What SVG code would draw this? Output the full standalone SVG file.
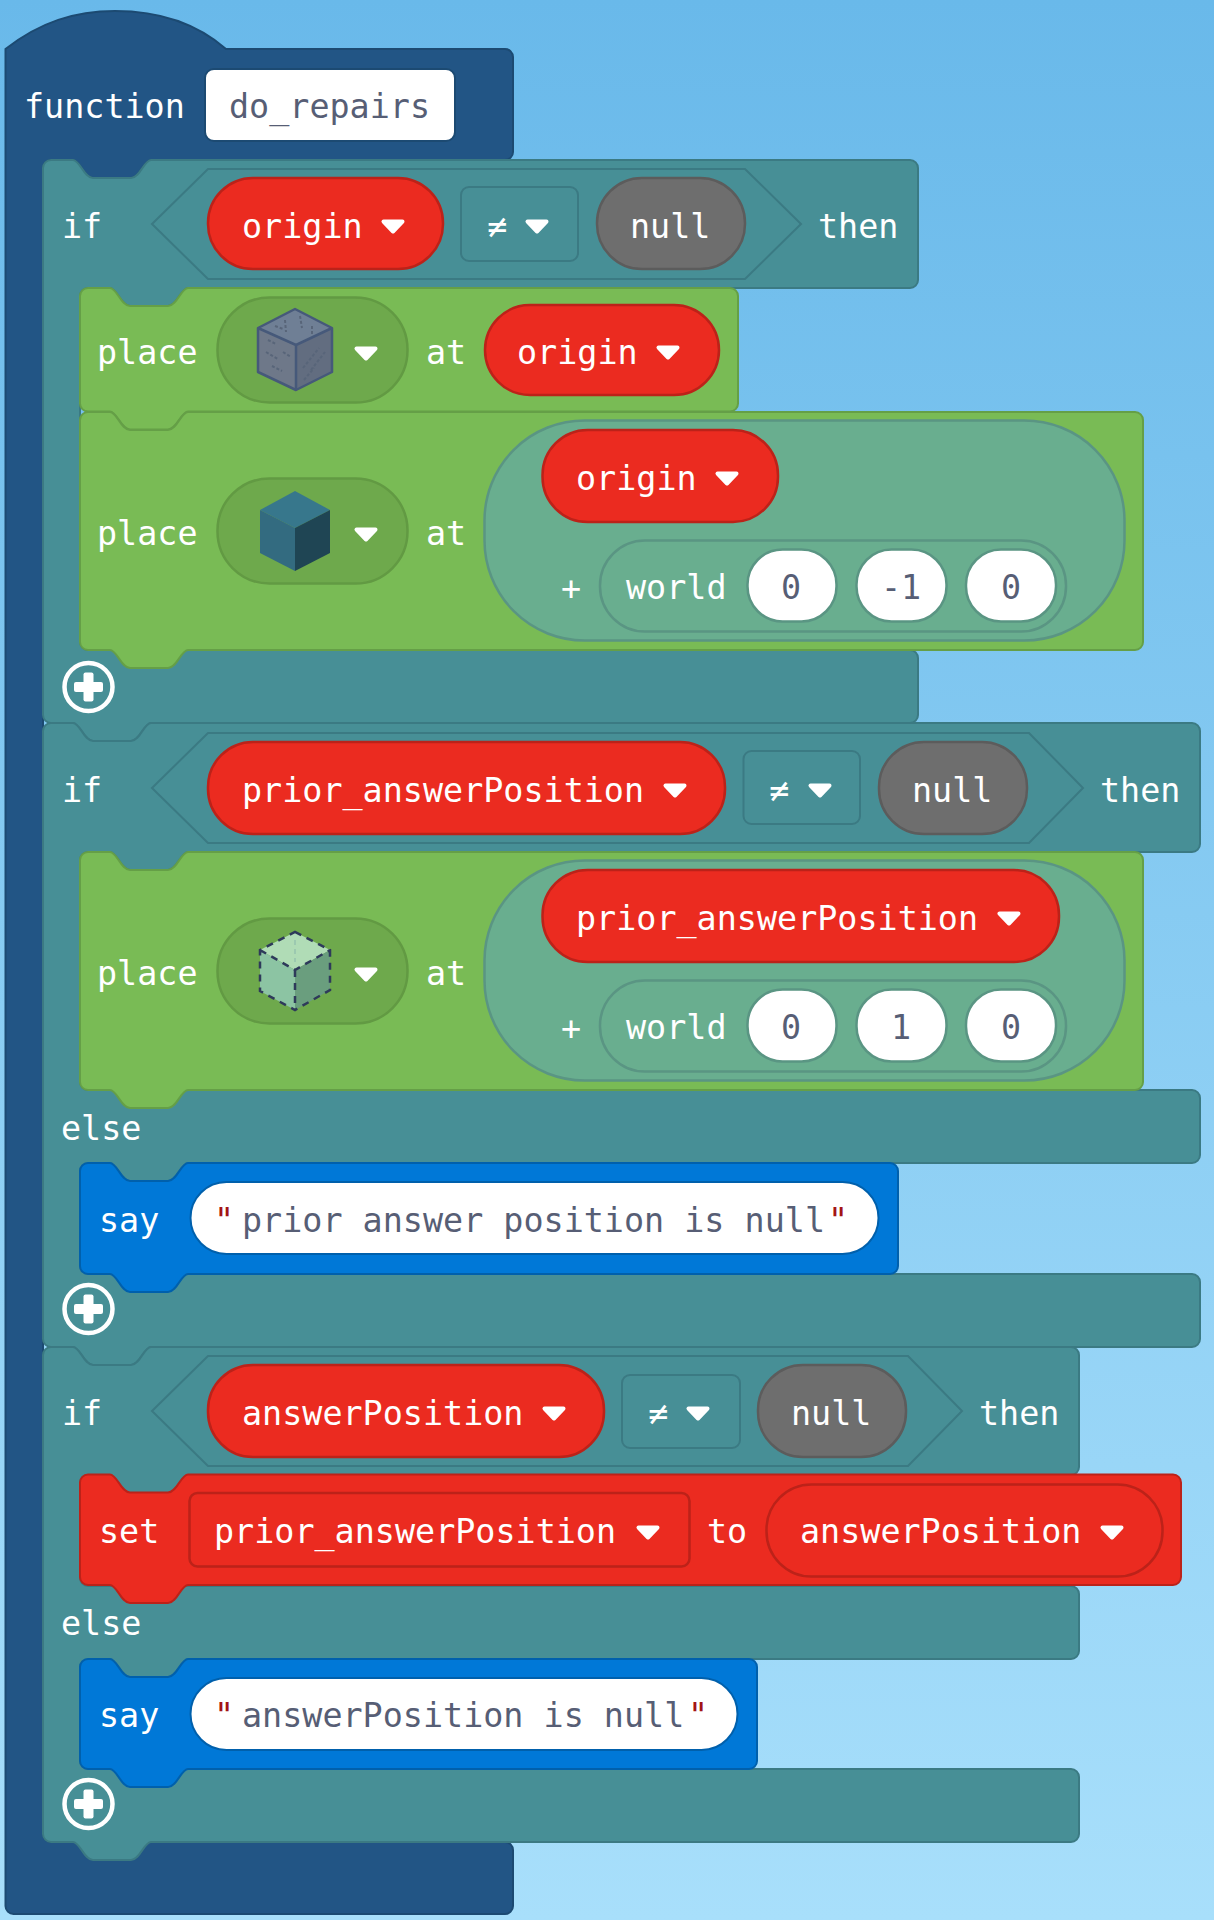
<svg xmlns="http://www.w3.org/2000/svg" width="1214" height="1920" viewBox="0 0 1214 1920">
<style>
text{font-family:"DejaVu Sans Mono","Liberation Mono",monospace;font-size:33.4px;fill:#fff}
text.d{fill:#575e75}
text.q{fill:#a31515;text-anchor:middle}
text.m{text-anchor:middle}
text.dm{fill:#575e75;text-anchor:middle}
.fn{fill:#225585;stroke:#1c4a72;stroke-width:2}
.lg{fill:#478f96;stroke:#3b7a83;stroke-width:2}
.df{fill:#478f96;stroke:#3b7a83;stroke-width:2}
.gr{fill:#79bb55;stroke:#659f47;stroke-width:2}
.gp{fill:#6ea94c;stroke:#629a43;stroke-width:2.5}
.mt{fill:#69ae8f;stroke:#5a9583;stroke-width:2.5}
.rd{fill:#eb2b20;stroke:#bc2219;stroke-width:2.5}
.gy{fill:#6e6e6e;stroke:#5c5c5c;stroke-width:2.5}
.bl{fill:#0078d7;stroke:#0060ac;stroke-width:2}
.wh{fill:#fff;stroke:#0060ac;stroke-width:2}
.wg{fill:#fff;stroke:#5a9583;stroke-width:2.5}
.ar{fill:#fff;stroke:#fff;stroke-width:4;stroke-linejoin:round}
.pl{fill:none;stroke:#fff;stroke-width:4.5}
.px{fill:#fff}
</style>
<defs>
<linearGradient id="bg" x1="0" y1="0" x2="0" y2="1"><stop offset="0" stop-color="#69b9ea"/><stop offset="1" stop-color="#a8dffb"/></linearGradient>
<path id="arrow" class="ar" d="M2.5,2.5H21.5L12,12.5Z"/>
<g id="plus"><circle class="pl" r="24"/><rect class="px" x="-14.5" y="-5" width="29" height="10" rx="2"/><rect class="px" x="-5" y="-14.5" width="10" height="29" rx="2"/></g>
</defs>
<rect width="1214" height="1920" fill="url(#bg)"/>
<g id="connectors"/>

<g id="function-do-repairs">
<path class="fn" d="M5.500,49C40,22 75,11 115,11C155,11 195,22 226,49H505a8,8 0 0 1 8,8V152a8,8 0 0 1 -8,8H151c-7,0 -11,18 -20,18h-38c-9,0 -13,-18 -20,-18H51a8,8 0 0 0 -8,8V1834a8,8 0 0 0 8,8H505a8,8 0 0 1 8,8V1906a8,8 0 0 1 -8,8H13.500a8,8 0 0 1 -8,-8Z"/>
<text x="24" y="118">function</text>
<rect x="205" y="69" width="250" height="72" rx="9" fill="#fff" stroke="#1c4a72" stroke-width="2"/>
<text class="d" x="229" y="118">do_repairs</text>
</g>

<g id="if-origin">
<path class="lg" d="M43,168a8,8 0 0 1 8,-8H73c7,0 11,18 20,18h38c9,0 13,-18 20,-18H910a8,8 0 0 1 8,8V280a8,8 0 0 1 -8,8H188c-7,0 -11,18 -20,18h-38c-9,0 -13,-18 -20,-18H88a8,8 0 0 0 -8,8V642a8,8 0 0 0 8,8H910a8,8 0 0 1 8,8V715a8,8 0 0 1 -8,8H151c-7,0 -11,18 -20,18h-38c-9,0 -13,-18 -20,-18H51a8,8 0 0 1 -8,-8Z"/>
<text x="62" y="238">if</text>
<path class="df" d="M152,224L208,169H745L801,224L745,279H208Z"/>
<rect class="rd" x="208" y="178" width="235" height="91" rx="45"/>
<text x="242" y="238">origin</text><use href="#arrow" x="381" y="219"/>
<rect class="df" x="461" y="187" width="117" height="74" rx="8"/>
<text class="m" x="497" y="238">≠</text><use href="#arrow" x="525" y="219"/>
<rect class="gy" x="597" y="178" width="148" height="91" rx="45"/>
<text x="630" y="238">null</text>
<text x="818" y="238">then</text>
<use href="#plus" x="88.500" y="687"/>
</g>

<g id="place-1">
<path class="gr" d="M80,296a8,8 0 0 1 8,-8H110c7,0 11,18 20,18h38c9,0 13,-18 20,-18H730a8,8 0 0 1 8,8V403.500a8,8 0 0 1 -8,8H188c-7,0 -11,18 -20,18h-38c-9,0 -13,-18 -20,-18H88a8,8 0 0 1 -8,-8Z"/>
<text x="97" y="364">place</text>
<rect class="gp" x="217.500" y="297.500" width="190" height="105" rx="52"/>
<g id="cube-stone">
<path d="M295,309L332,328L296,345L258,328Z" fill="#6f7f95"/>
<path d="M258,328L296,345V390L258,372Z" fill="#6e7889"/>
<path d="M332,328L296,345V390L332,372Z" fill="#626d80"/>
<path d="M295,309L332,328V372L296,390L258,372V328ZM258,328L296,345L332,328M296,345V390" fill="none" stroke="#46597a" stroke-width="2.500" stroke-linejoin="round"/>
<path d="M268,340l8,4M266,352l12,7M272,366l10,5M283,352l8,5M303,368l16,-20M311,370l14,-18M304,380l10,-12M285,320l1,12M300,316l2,12M312,326l0,8M275,326l8,3" fill="none" stroke="#586579" stroke-width="2" stroke-dasharray="3 2"/>
</g>
<use href="#arrow" x="354" y="346"/>
<text x="426" y="364">at</text>
<rect class="rd" x="485" y="305" width="234" height="90" rx="45"/>
<text x="517" y="364">origin</text><use href="#arrow" x="656" y="345"/>
</g>

<g id="place-2">
<path class="gr" d="M80,420a8,8 0 0 1 8,-8H110c7,0 11,18 20,18h38c9,0 13,-18 20,-18H1135a8,8 0 0 1 8,8V642a8,8 0 0 1 -8,8H188c-7,0 -11,18 -20,18h-38c-9,0 -13,-18 -20,-18H88a8,8 0 0 1 -8,-8Z"/>
<text x="97" y="545">place</text>
<rect class="gp" x="217.500" y="478.500" width="190" height="105" rx="52"/>
<g id="cube-prismarine">
<path d="M295,491L330,510L295,528L260,510Z" fill="#37778c"/>
<path d="M260,510L295,528V571L260,553Z" fill="#336b80"/>
<path d="M330,510L295,528V571L330,553Z" fill="#1f4554"/>
</g>
<use href="#arrow" x="354" y="527"/>
<text x="426" y="545">at</text>
<rect class="mt" x="484.500" y="420.500" width="640" height="220" rx="100"/>
<rect class="rd" x="542.500" y="430" width="235.500" height="92" rx="45"/>
<text x="576" y="490">origin</text><use href="#arrow" x="715" y="471"/>
<text class="m" x="571" y="600">+</text>
<rect class="mt" x="600" y="540.500" width="466" height="91" rx="45"/>
<text x="626" y="599">world</text>
<rect class="wg" x="747.500" y="549.500" width="89" height="72" rx="35"/>
<text class="dm" x="791" y="599">0</text>
<rect class="wg" x="856.500" y="549.500" width="90" height="72" rx="35"/>
<text class="dm" x="901" y="599">-1</text>
<rect class="wg" x="966" y="549.500" width="90" height="72" rx="35"/>
<text class="dm" x="1011" y="599">0</text>
</g>

<g id="if-prior-answer">
<path class="lg" d="M43,731a8,8 0 0 1 8,-8H73c7,0 11,18 20,18h38c9,0 13,-18 20,-18H1192a8,8 0 0 1 8,8V844a8,8 0 0 1 -8,8H188c-7,0 -11,18 -20,18h-38c-9,0 -13,-18 -20,-18H88a8,8 0 0 0 -8,8V1082a8,8 0 0 0 8,8H1192a8,8 0 0 1 8,8V1155a8,8 0 0 1 -8,8H188c-7,0 -11,18 -20,18h-38c-9,0 -13,-18 -20,-18H88a8,8 0 0 0 -8,8V1266a8,8 0 0 0 8,8H1192a8,8 0 0 1 8,8V1339a8,8 0 0 1 -8,8H151c-7,0 -11,18 -20,18h-38c-9,0 -13,-18 -20,-18H51a8,8 0 0 1 -8,-8Z"/>
<text x="62" y="802">if</text>
<path class="df" d="M152,788L208,733H1029L1083,788L1029,843H208Z"/>
<rect class="rd" x="208" y="742" width="517" height="92" rx="45"/>
<text x="242" y="802">prior_answerPosition</text><use href="#arrow" x="663" y="783"/>
<rect class="df" x="743.500" y="751" width="116.500" height="73" rx="8"/>
<text class="m" x="779" y="802">≠</text><use href="#arrow" x="808" y="783"/>
<rect class="gy" x="879" y="742" width="148" height="92" rx="45"/>
<text x="912" y="802">null</text>
<text x="1100" y="802">then</text>
<text x="61" y="1140">else</text>
<use href="#plus" x="88.500" y="1309"/>
</g>

<g id="place-3">
<path class="gr" d="M80,860a8,8 0 0 1 8,-8H110c7,0 11,18 20,18h38c9,0 13,-18 20,-18H1135a8,8 0 0 1 8,8V1082a8,8 0 0 1 -8,8H188c-7,0 -11,18 -20,18h-38c-9,0 -13,-18 -20,-18H88a8,8 0 0 1 -8,-8Z"/>
<text x="97" y="985">place</text>
<rect class="gp" x="217.500" y="918.500" width="190" height="105" rx="52"/>
<g id="cube-glass">
<path d="M295,932L330,950L295,970L260,950Z" fill="#b0dcb6"/>
<path d="M260,950L295,970V1010L260,991Z" fill="#8cc4a3"/>
<path d="M330,950L295,970V1010L330,990Z" fill="#6a9e7e"/>
<path d="M295,940V962" fill="none" stroke="#9cc9b0" stroke-width="2" stroke-dasharray="5 4"/>
<path d="M295,932L330,950V990L295,1010L260,991V950ZM260,950L295,970L330,950M295,970V1010" fill="none" stroke="#2e3a5a" stroke-width="2.500" stroke-dasharray="7 6"/>
</g>
<use href="#arrow" x="354" y="967"/>
<text x="426" y="985">at</text>
<rect class="mt" x="484.500" y="860.500" width="640" height="220" rx="100"/>
<rect class="rd" x="542.500" y="870" width="516.500" height="92" rx="45"/>
<text x="576" y="930">prior_answerPosition</text><use href="#arrow" x="997" y="911"/>
<text class="m" x="571" y="1040">+</text>
<rect class="mt" x="600" y="980.500" width="466" height="91" rx="45"/>
<text x="626" y="1039">world</text>
<rect class="wg" x="747.500" y="989.500" width="89" height="72" rx="35"/>
<text class="dm" x="791" y="1039">0</text>
<rect class="wg" x="856.500" y="989.500" width="90" height="72" rx="35"/>
<text class="dm" x="901" y="1039">1</text>
<rect class="wg" x="966" y="989.500" width="90" height="72" rx="35"/>
<text class="dm" x="1011" y="1039">0</text>
</g>

<g id="say-1">
<path class="bl" d="M80,1171a8,8 0 0 1 8,-8H110c7,0 11,18 20,18h38c9,0 13,-18 20,-18H890a8,8 0 0 1 8,8V1266a8,8 0 0 1 -8,8H188c-7,0 -11,18 -20,18h-38c-9,0 -13,-18 -20,-18H88a8,8 0 0 1 -8,-8Z"/>
<text x="99" y="1232">say</text>
<rect class="wh" x="190.500" y="1182" width="688" height="72" rx="36"/>
<text class="q" x="224" y="1232">"</text>
<text class="d" x="242" y="1232">prior answer position is null</text>
<text class="q" x="838" y="1232">"</text>
</g>

<g id="if-answer">
<path class="lg" d="M43,1355a8,8 0 0 1 8,-8H73c7,0 11,18 20,18h38c9,0 13,-18 20,-18H1071a8,8 0 0 1 8,8V1467a8,8 0 0 1 -8,8H188c-7,0 -11,18 -20,18h-38c-9,0 -13,-18 -20,-18H88a8,8 0 0 0 -8,8V1578a8,8 0 0 0 8,8H1071a8,8 0 0 1 8,8V1651a8,8 0 0 1 -8,8H188c-7,0 -11,18 -20,18h-38c-9,0 -13,-18 -20,-18H88a8,8 0 0 0 -8,8V1761a8,8 0 0 0 8,8H1071a8,8 0 0 1 8,8V1834a8,8 0 0 1 -8,8H151c-7,0 -11,18 -20,18h-38c-9,0 -13,-18 -20,-18H51a8,8 0 0 1 -8,-8Z"/>
<text x="62" y="1425">if</text>
<path class="df" d="M152,1411L208,1356H908L962,1411L908,1466H208Z"/>
<rect class="rd" x="208" y="1365" width="396" height="92" rx="45"/>
<text x="242" y="1425">answerPosition</text><use href="#arrow" x="542" y="1406"/>
<rect class="df" x="622" y="1375" width="118" height="73" rx="8"/>
<text class="m" x="658" y="1425">≠</text><use href="#arrow" x="686" y="1406"/>
<rect class="gy" x="758" y="1365" width="148" height="92" rx="45"/>
<text x="791" y="1425">null</text>
<text x="979" y="1425">then</text>
<text x="61" y="1635">else</text>
<use href="#plus" x="88.500" y="1804"/>
</g>

<g id="set-prior-answer">
<path class="rd" style="stroke-width:2" d="M80,1482.500a8,8 0 0 1 8,-8H110c7,0 11,18 20,18h38c9,0 13,-18 20,-18H1173a8,8 0 0 1 8,8V1577a8,8 0 0 1 -8,8H188c-7,0 -11,18 -20,18h-38c-9,0 -13,-18 -20,-18H88a8,8 0 0 1 -8,-8Z"/>
<text x="99" y="1543">set</text>
<rect class="rd" x="189.500" y="1493" width="500" height="73.500" rx="8"/>
<text x="214" y="1543">prior_answerPosition</text><use href="#arrow" x="636" y="1525"/>
<text x="707" y="1543">to</text>
<rect class="rd" x="766.500" y="1484.500" width="396" height="92" rx="45"/>
<text x="800" y="1543">answerPosition</text><use href="#arrow" x="1100" y="1525"/>
</g>

<g id="say-2">
<path class="bl" d="M80,1667a8,8 0 0 1 8,-8H110c7,0 11,18 20,18h38c9,0 13,-18 20,-18H749a8,8 0 0 1 8,8V1761a8,8 0 0 1 -8,8H188c-7,0 -11,18 -20,18h-38c-9,0 -13,-18 -20,-18H88a8,8 0 0 1 -8,-8Z"/>
<text x="99" y="1727">say</text>
<rect class="wh" x="190.500" y="1678" width="547" height="72" rx="36"/>
<text class="q" x="224" y="1727">"</text>
<text class="d" x="242" y="1727">answerPosition is null</text>
<text class="q" x="698" y="1727">"</text>
</g>
</svg>
